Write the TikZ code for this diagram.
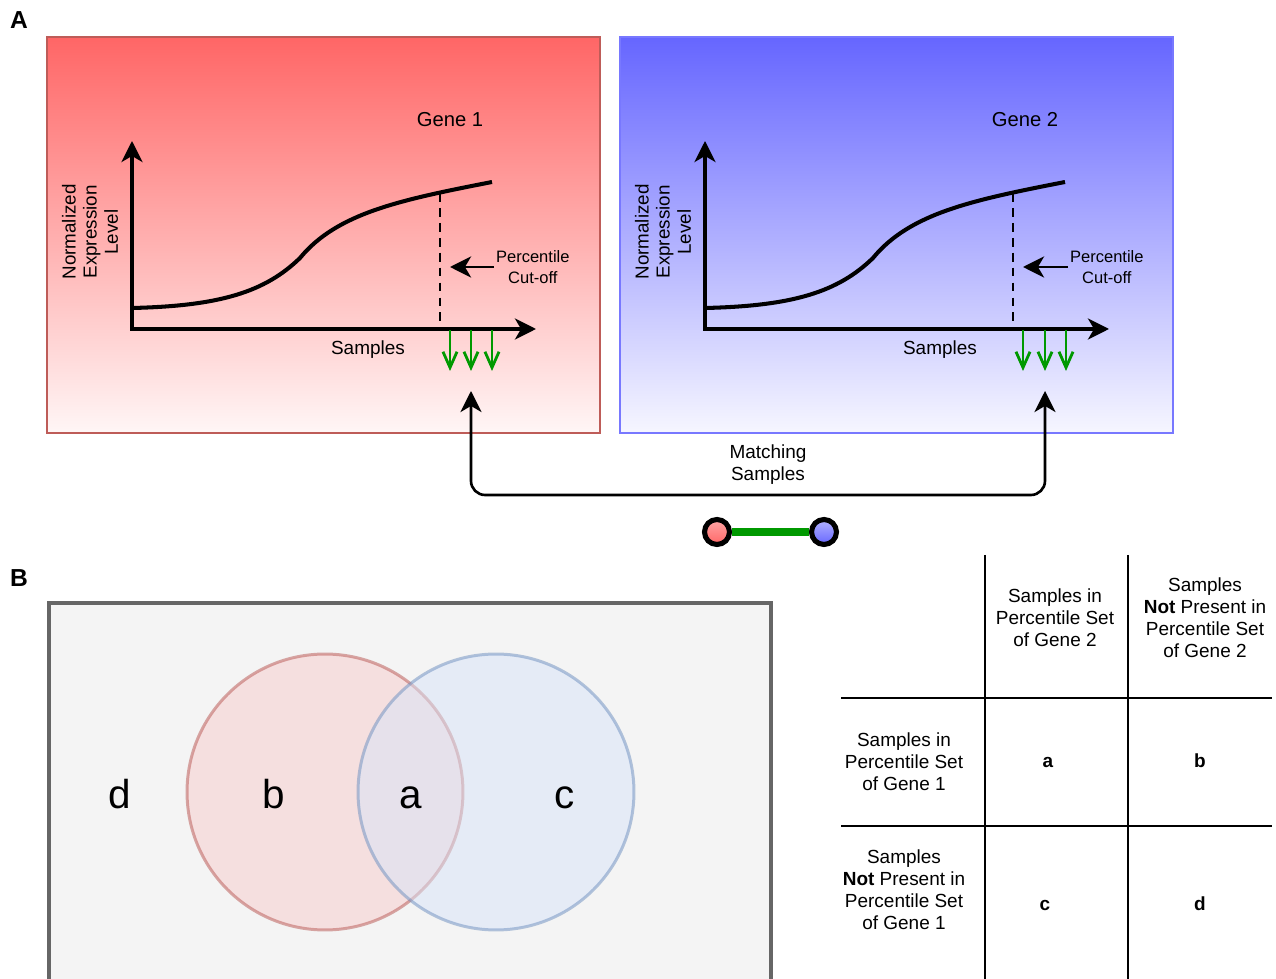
\documentclass[tikz,border=0pt]{standalone}
\usepackage{fontspec}
\setmainfont{Liberation Sans}
\usepackage{xcolor}
\usetikzlibrary{arrows.meta, positioning, calc}

\definecolor{redTop}{HTML}{FF6666}
\definecolor{redBottom}{HTML}{FFF6F6}
\definecolor{redEdge}{HTML}{BE5C58}
\definecolor{blueTop}{HTML}{6666FF}
\definecolor{blueBottom}{HTML}{F6F6FF}
\definecolor{blueEdge}{HTML}{7878FF}
\definecolor{hitGreen}{HTML}{009900}
\definecolor{vennBack}{HTML}{F4F4F4}
\definecolor{vennEdge}{HTML}{666666}
\definecolor{setOneFill}{HTML}{F6CCCC}
\definecolor{setOneEdge}{HTML}{B85450}
\definecolor{setTwoFill}{HTML}{D8E4F8}
\definecolor{setTwoEdge}{HTML}{6C8EBF}

\begin{document}
\begin{tikzpicture}[
    x=0.02cm, y=-0.02cm,
    every node/.style={font=\fontsize{10.8}{12.5}\selectfont},
    tag/.style={font=\fontsize{14}{16}\selectfont\bfseries},
    title/.style={font=\fontsize{11.5}{13}\selectfont},
    txt/.style={align=center, inner sep=1pt},
    note/.style={align=center, inner sep=1pt, font=\fontsize{9.4}{12}\selectfont},
    panelOne/.style={draw=redEdge, line width=1.5pt, top color=redTop, bottom color=redBottom},
    panelTwo/.style={draw=blueEdge, line width=1.5pt, top color=blueTop, bottom color=blueBottom},
    axis/.style={line width=1.8pt, {Stealth[length=12pt, width=12pt, inset=3.5pt]}-{Stealth[length=12pt, width=12pt, inset=3.5pt]}},
    curve/.style={line width=2.3pt},
    cutoff/.style={line width=1.6pt, dash pattern=on 5pt off 3.5pt},
    pointer/.style={-{Stealth[length=12pt, width=12pt, inset=3.5pt]}, line width=1.7pt},
    hit/.style={draw=hitGreen, line width=1.6pt, -{Straight Barb[length=9pt, width=8pt]}},
    pair/.style={line width=1.5pt, rounded corners=8pt, {Stealth[length=12pt, width=12pt, inset=3.5pt]}-{Stealth[length=12pt, width=12pt, inset=3.5pt]}},
    ball/.style={circle, draw=black, line width=2.9pt, minimum size=0.5cm, inner sep=0pt},
    link/.style={draw=hitGreen, line width=4.5pt},
    vennbox/.style={draw=vennEdge, fill=vennBack, line width=1.8pt},
    set/.style={circle, minimum size=5.52cm, line width=1.7pt, opacity=0.5, inner sep=0pt},
    big/.style={anchor=base, font=\fontsize{23}{26}\selectfont},
    tableline/.style={line width=1pt},
    cell/.style={font=\fontsize{10.8}{12.5}\selectfont\bfseries}
]
    \useasboundingbox (0,0) rectangle (1276,979);

    % Panel A
    \node[tag] (tagA) at (19,20) {A};

    % Gene 1 panel
    \draw[panelOne] (47,37) rectangle (600,433);
    \node[title] (gene1) at (450,120) {Gene 1};
    \coordinate (y1) at (132,141);
    \coordinate (x1) at (536,329);
    \draw[axis] (y1) |- (x1);
    \draw[curve] (132,308) .. controls (220,306) and (265,292) .. (300,258)
        .. controls (337,213) and (400,200) .. (492,182);
    \coordinate (cut1) at (440,193);
    \coordinate (base1) at (440,329);
    \draw[cutoff] (cut1) -- (base1);
    \node[txt, rotate=90, font=\fontsize{10.7}{12}\selectfont] (ylab1) at (90,232) {Normalized\\Expression\\Level};
    \node[txt] (xlab1) at (368,350) {Samples};
    \node[note, anchor=west] (pc1) at (494,267) {Percentile\\Cut-off};
    \coordinate (pt1) at (450,267);
    \draw[pointer] (pc1.west) -- (pt1);
    \foreach \i/\gx in {1/450, 2/471, 3/492} {
        \coordinate (g1t\i) at (\gx,330);
        \coordinate (g1b\i) at (\gx,371);
        \draw[hit] (g1t\i) -- (g1b\i);
    }

    % Gene 2 panel
    \draw[panelTwo] (620,37) rectangle (1173,433);
    \node[title] (gene2) at (1025,120) {Gene 2};
    \coordinate (y2) at (705,141);
    \coordinate (x2) at (1109,329);
    \draw[axis] (y2) |- (x2);
    \draw[curve] (705,308) .. controls (793,306) and (838,292) .. (873,258)
        .. controls (910,213) and (973,200) .. (1065,182);
    \coordinate (cut2) at (1013,193);
    \coordinate (base2) at (1013,329);
    \draw[cutoff] (cut2) -- (base2);
    \node[txt, rotate=90, font=\fontsize{10.7}{12}\selectfont] (ylab2) at (663,232) {Normalized\\Expression\\Level};
    \node[txt] (xlab2) at (940,350) {Samples};
    \node[note, anchor=west] (pc2) at (1068,267) {Percentile\\Cut-off};
    \coordinate (pt2) at (1023,267);
    \draw[pointer] (pc2.west) -- (pt2);
    \foreach \i/\gx in {1/1023, 2/1045, 3/1066} {
        \coordinate (g2t\i) at (\gx,330);
        \coordinate (g2b\i) at (\gx,371);
        \draw[hit] (g2t\i) -- (g2b\i);
    }

    % Matching samples
    \coordinate (m1) at (471,391);
    \coordinate (m2) at (1045,391);
    \coordinate (mb) at (758,495);
    \draw[pair] (m1) |- (mb) -| (m2);
    \node[txt] (match) at (768,465) {Matching\\Samples};

    % Gene pair
    \node[ball, top color=red!35!white, bottom color=red!60!white] (dotR) at (717,532) {};
    \node[ball, top color=blue!30!white, bottom color=blue!60!white] (dotB) at (824,532) {};
    \draw[link] (dotR) -- (dotB);

    % Panel B
    \node[tag] (tagB) at (19,578) {B};
    \draw[vennbox] (49,603) rectangle (771,990);
    \node[set, draw=setOneEdge, fill=setOneFill] (set1) at (325,792) {};
    \node[set, draw=setTwoEdge, fill=setTwoFill] (set2) at (496,792) {};
    \node[big] (vd) at (120,809) {d};
    \node[big] (vb) at (274,809) {b};
    \node[big] (va) at (411,809) {a};
    \node[big] (vc) at (565,809) {c};

    % Contingency table
    \draw[tableline] (985,555) -- (985,985);
    \draw[tableline] (1128,555) -- (1128,985);
    \draw[tableline] (841,698) -- (1272,698);
    \draw[tableline] (841,826) -- (1272,826);
    \node[txt] (head1) at (1055,618) {Samples in\\Percentile Set\\of Gene 2};
    \node[txt] (head2) at (1205,618) {Samples\\\textbf{Not} Present in\\Percentile Set\\of Gene 2};
    \node[txt] (row1) at (904,762) {Samples in\\Percentile Set\\of Gene 1};
    \node[txt] (row2) at (904,890) {Samples\\\textbf{Not} Present in\\Percentile Set\\of Gene 1};
    \node[cell] (ca) at (1048,762) {a};
    \node[cell] (cb) at (1200,761) {b};
    \node[cell] (cc) at (1045,905) {c};
    \node[cell] (cd) at (1200,904) {d};

\end{tikzpicture}
\end{document}
